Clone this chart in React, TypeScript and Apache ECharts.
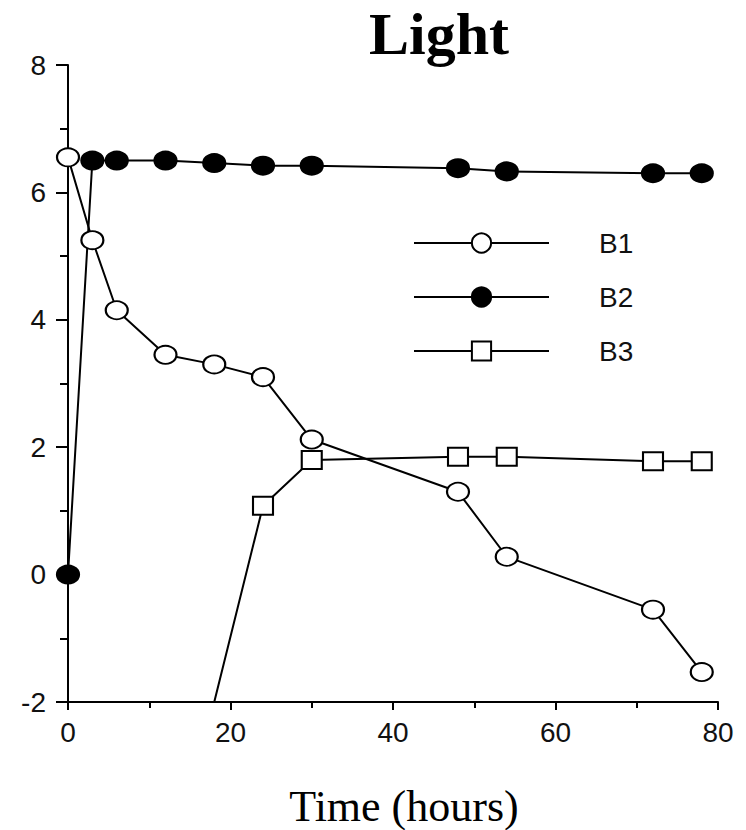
import React, { useEffect, useRef } from "react";
import * as echarts from "echarts";

const hours1 = [0, 3, 6, 12, 18, 24, 30, 48, 54, 72, 78];
const b1 = [6.55, 5.25, 4.15, 3.45, 3.3, 3.1, 2.12, 1.3, 0.28, -0.55, -1.53];
const hours2 = [0, 3, 6, 12, 18, 24, 30, 48, 54, 72, 78];
const b2 = [0, 6.5, 6.5, 6.5, 6.46, 6.42, 6.42, 6.38, 6.33, 6.3, 6.3];
const hours3 = [18, 24, 30, 48, 54, 72, 78];
const b3 = [-2, 1.08, 1.8, 1.85, 1.85, 1.78, 1.78];
const yTicks = [-2, 0, 2, 4, 6, 8];
const xTicks = [0, 20, 40, 60, 80];

export default function App() {
  const ref = useRef<HTMLDivElement>(null);
  useEffect(() => {
    const chart = echarts.init(ref.current!, null, { renderer: "svg" });
    const mk = (xs: number[], ys: number[]) => xs.map((x, i) => [x, ys[i]]);
    const lineStyle = { color: "#000", width: 2 };
    const tickFont = { fontFamily: "Liberation Sans", fontSize: 28, color: "#111" };
    chart.setOption({
      animation: false,
      backgroundColor: "#fff",
      title: {
        text: "Light",
        left: 439,
        top: 4,
        padding: 0,
        textAlign: "center",
        textStyle: { fontFamily: "Liberation Serif", fontWeight: "bold", fontSize: 60, color: "#000" },
      },
      grid: { left: 68, right: 28, top: 65, bottom: 128, containLabel: false, outerBoundsMode: "none" },
      legend: {
        orient: "vertical",
        left: 408,
        top: 224,
        itemWidth: 135,
        itemHeight: 24,
        itemGap: 26,
        textStyle: { ...tickFont, padding: [0, 0, 0, 45] },
        data: ["B1", "B2", "B3"],
      },
      xAxis: {
        type: "value",
        min: 0,
        max: 80,
        interval: 20,
        name: "Time (hours)",
        nameLocation: "middle",
        nameGap: 82,
        nameTextStyle: { fontFamily: "Liberation Serif", fontSize: 44, color: "#000", padding: [0, 0, 0, 22] },
        axisLine: { onZero: false, lineStyle: { color: "#000", width: 2 } },
        axisTick: { length: 8, lineStyle: { color: "#000", width: 2 } },
        minorTick: { show: true, splitNumber: 2, length: 6, lineStyle: { color: "#000", width: 2 } },
        splitLine: { show: false },
        axisLabel: { margin: 16, ...tickFont, customValues: xTicks },
      },
      yAxis: {
        type: "value",
        min: -2,
        max: 8,
        interval: 2,
        axisLine: { show: true, onZero: false, lineStyle: { color: "#000", width: 2 } },
        axisTick: { show: true, length: 12, lineStyle: { color: "#000", width: 2 } },
        minorTick: { show: true, splitNumber: 2, length: 8, lineStyle: { color: "#000", width: 2 } },
        splitLine: { show: false },
        axisLabel: { margin: 22, ...tickFont, customValues: yTicks },
      },
      series: [
        {
          name: "B1",
          type: "line",
          data: mk(hours1, b1),
          symbol: "circle",
          symbolSize: [22, 18],
          itemStyle: { color: "#fff", borderColor: "#000", borderWidth: 2 },
          lineStyle,
          z: 3,
        },
        {
          name: "B2",
          type: "line",
          data: mk(hours2, b2),
          symbol: "circle",
          symbolSize: [22, 18],
          itemStyle: { color: "#000", borderColor: "#000", borderWidth: 2 },
          lineStyle,
          z: 2,
        },
        {
          name: "B3",
          type: "line",
          data: mk(hours3, b3).map((d, i) => (i === 0 ? { value: d, symbol: "none" } : { value: d })),
          symbol: "rect",
          symbolSize: [20, 18],
          itemStyle: { color: "#fff", borderColor: "#000", borderWidth: 2 },
          lineStyle,
          z: 2,
        },
      ],
    });
    return () => chart.dispose();
  }, []);
  return (
    <div
      ref={ref}
      style={{ position: "absolute", left: 0, top: 0, width: 746, height: 830, background: "#fff" }}
    />
  );
}
